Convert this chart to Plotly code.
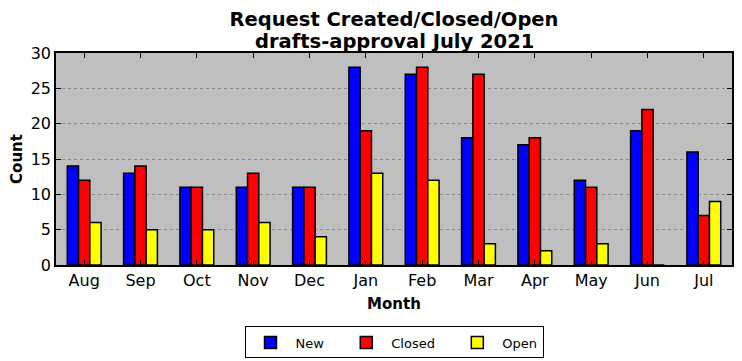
import plotly.graph_objects as go

months = ["Aug", "Sep", "Oct", "Nov", "Dec", "Jan", "Feb", "Mar", "Apr", "May", "Jun", "Jul"]
new_vals = [14, 13, 11, 11, 11, 28, 27, 18, 17, 12, 19, 16]
closed_vals = [12, 14, 11, 13, 11, 19, 28, 27, 18, 11, 22, 7]
open_vals = [6, 5, 5, 6, 4, 13, 12, 3, 2, 3, 0, 9]
title_line1 = "Request Created/Closed/Open"
title_line2 = "drafts-approval July 2021"

series = [("New", new_vals, "#0000ff"), ("Closed", closed_vals, "#ff0000"), ("Open", open_vals, "#ffff00")]

pad = "\u00a0\u00a0\u00a0"
fig = go.Figure()
for i, (name, vals, col) in enumerate(series):
    label = name + (pad if i < len(series) - 1 else "")
    fig.add_trace(go.Bar(x=months, y=vals, name=label,
                         marker=dict(color=col, line=dict(color="black", width=1.5))))

font = "DejaVu Sans"
fig.update_layout(
    width=742, height=361,
    barmode="group", bargap=0.4, bargroupgap=0,
    plot_bgcolor="#bfbfbf", paper_bgcolor="white",
    margin=dict(l=56, r=10, t=53, b=96, autoexpand=False),
    font=dict(family=font, size=14, color="black"),
    title=dict(text="<b>" + title_line1 + "</b>",
               x=0.531, xanchor="center", y=1 - 19 / 361, yanchor="middle", yref="container",
               font=dict(family=font, size=19.5)),
    annotations=[dict(text="<b>" + title_line2 + "</b>", xref="paper", yref="paper",
                      x=0.5, y=1 + 12 / 212, xanchor="center", yanchor="middle",
                      showarrow=False, font=dict(family=font, size=19.5))],
    legend=dict(orientation="h", x=0.5, xanchor="center", y=-0.29, yanchor="top",
                bordercolor="black", borderwidth=1, font=dict(size=13),
                itemwidth=40, tracegroupgap=0),
    showlegend=True,
)
fig.update_xaxes(range=[-0.5, 11.5], ticks="inside", ticklen=5, tickcolor="black",
                 showline=True, linecolor="black", linewidth=1.5, mirror="ticks",
                 automargin=False,
                 title=dict(text="<b>Month</b>", font=dict(size=15), standoff=10),
                 tickfont=dict(size=16))
fig.update_yaxes(range=[0, 30], dtick=5, ticks="inside", ticklen=5, tickcolor="black",
                 showline=True, linecolor="black", linewidth=1.5, mirror="ticks",
                 automargin=False,
                 showgrid=True, gridcolor="#8c8c8c", griddash="dot", gridwidth=1,
                 zeroline=False,
                 title=dict(text="<b>Count</b>", font=dict(size=15), standoff=4),
                 tickfont=dict(size=16))

fig.write_html("out.html", config={"displayModeBar": False},
               post_script="document.body.style.margin='0';document.body.style.overflow='hidden';")
